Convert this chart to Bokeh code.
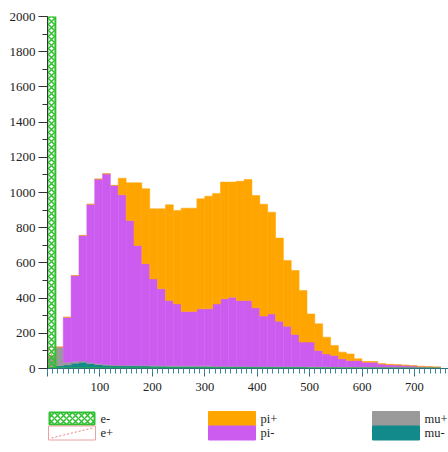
import numpy as np
from bokeh.plotting import figure
from bokeh.layouts import column
from bokeh.models import ColumnDataSource, SingleIntervalTicker, Range1d
from bokeh.embed import file_html
from bokeh.resources import INLINE

# ---- data: 50 bins of width 15 from 0 to 750 ----
bin_edges = list(range(0, 751, 15))
mu_minus = [10, 15, 20, 30, 35, 28, 22, 18, 16, 15, 15, 14, 14, 13, 13, 12, 12, 12, 12, 11,
            11, 10, 10, 10, 10, 10, 9, 9, 9, 8, 8, 8, 8, 7, 7, 7, 7, 6, 6, 6,
            6, 5, 5, 5, 5, 4, 4, 4, 3, 3]
mu_plus = [60, 106, 15, 10, 8, 6, 5, 5, 4, 4, 4, 4, 4, 4, 4, 4, 4, 4, 4, 4,
           4, 3, 3, 3, 3, 3, 3, 3, 3, 3, 3, 3, 3, 3, 3, 3, 2, 2, 2, 2,
           2, 2, 2, 2, 2, 2, 2, 2, 2, 2]
pi_minus = [0, 0, 256, 488, 713, 899, 1049, 1083, 1020, 968, 822, 681, 577, 492, 436, 370,
            351, 308, 308, 324, 324, 354, 383, 392, 373, 373, 333, 286, 298, 257, 229, 182,
            139, 140, 92, 73, 65, 47, 37, 37, 28, 29, 18, 15, 13, 12, 9, 6, 5, 3]
pi_plus = [0, 0, 0, 0, 0, 0, 0, 0, 0, 94, 214, 356, 426, 398, 454, 544,
           531, 587, 587, 625, 640, 628, 663, 654, 678, 688, 638, 635, 578, 473, 374, 364,
           293, 160, 152, 95, 57, 38, 38, 10, 4, 4, 2, 2, 1, 1, 1, 0, 0, 0]
e_plus = [120] + [0] * 49
e_minus = [2000] + [0] * 49

legend_labels = ["e-", "e+", "pi+", "pi-", "mu+", "mu-"]

centers = [(a + b) / 2 for a, b in zip(bin_edges[:-1], bin_edges[1:])]
width = bin_edges[1] - bin_edges[0]

src = ColumnDataSource(dict(x=centers, mu_minus=mu_minus, mu_plus=mu_plus,
                            pi_minus=pi_minus, pi_plus=pi_plus,
                            e_plus=e_plus, e_minus=e_minus))

p = figure(width=448, height=400, output_backend="svg", toolbar_location=None,
           x_range=Range1d(0, 765), y_range=Range1d(0, 2000),
           min_border_left=47, min_border_right=0, min_border_top=16, min_border_bottom=32)
p.outline_line_color = None
p.grid.visible = False
p.background_fill_color = "white"

colors = {"mu_minus": "#12898b", "mu_plus": "#9a9a9a", "pi_minus": "#cc5cf0", "pi_plus": "#ffa500"}
stack_names = ["mu_minus", "mu_plus", "pi_minus", "pi_plus"]
p.vbar_stack(stack_names, x="x", width=width, source=src,
             color=[colors[n] for n in stack_names], line_width=0.5)

ep_style = dict(fill_color="white", fill_alpha=0.0, line_color="#f0a0a0", line_width=1,
                hatch_pattern="/", hatch_color="#f08080", hatch_scale=10, hatch_weight=1)
em_style = dict(fill_alpha=0.0, line_color="#2ec02e", line_width=2,
                hatch_pattern="x", hatch_color="#2ec02e", hatch_scale=6, hatch_weight=1.5)
p.vbar(x="x", top="e_plus", bottom=0, width=width, source=src, **ep_style)
p.vbar(x="x", top="e_minus", bottom=0, width=width, source=src, **em_style)

# axes
p.xaxis.ticker = SingleIntervalTicker(interval=100, num_minor_ticks=10)
p.xaxis.major_label_overrides = {0: ""}
p.yaxis.ticker = SingleIntervalTicker(interval=200, num_minor_ticks=2)
for ax in (p.xaxis, p.yaxis):
    ax.major_label_text_font = "Liberation Serif"
    ax.major_label_text_color = "#222222"
    ax.major_tick_in = 0
    ax.minor_tick_in = 0
p.xaxis.major_label_text_font_size = "12.5px"
p.yaxis.major_label_text_font_size = "13px"
p.xaxis.axis_line_color = "#2f6f7c"
p.xaxis.major_tick_line_color = "#2f6f7c"
p.xaxis.minor_tick_line_color = "#3a8797"
p.xaxis.major_tick_out = 8
p.xaxis.minor_tick_out = 5
p.xaxis.major_label_standoff = 6
p.yaxis.axis_line_color = "#333333"
p.yaxis.major_tick_line_color = "#333333"
p.yaxis.minor_tick_line_color = "#333333"
p.yaxis.major_tick_out = 9
p.yaxis.minor_tick_out = 5
p.yaxis.major_label_standoff = 3

# ---- legend panel drawn below the plot (screen-like coordinates) ----
q = figure(width=448, height=52, output_backend="svg", toolbar_location=None,
           x_range=Range1d(47, 448), y_range=Range1d(52, 0),
           x_axis_type=None, y_axis_type=None,
           min_border_left=47, min_border_right=0, min_border_top=0, min_border_bottom=0)
q.outline_line_color = None
q.grid.visible = False

col_x = [48, 208, 372]
row_y = [11, 25.5]
sw_w, sw_h = 47, 14
styles = [em_style,
          dict(fill_color="white", line_color="#f0a0a0", line_width=1),
          dict(color=colors["pi_plus"]), dict(color=colors["pi_minus"]),
          dict(color=colors["mu_plus"]), dict(color=colors["mu_minus"])]
for i, (lab, st) in enumerate(zip(legend_labels, styles)):
    cx = col_x[i // 2]
    ry = row_y[i % 2]
    if i == 0:
        q.quad(left=cx + 1, right=cx + sw_w - 1, top=ry + 1, bottom=ry + sw_h - 1, **st)
    else:
        q.quad(left=cx, right=cx + sw_w, top=ry, bottom=ry + sw_h, **st)
    if i == 1:
        q.line(x=[cx + 3, cx + sw_w - 3], y=[ry + sw_h - 2, ry + 2],
               line_color="#f08080", line_dash="2 2", line_width=1)
    q.text(x=[cx + sw_w + 5], y=[ry + sw_h / 2], text=[lab],
           text_font="Liberation Serif", text_font_size="12.5px",
           text_baseline="middle", text_align="left", text_color="#222222")

open("out.html", "w").write(file_html(column(p, q, spacing=0), INLINE))
